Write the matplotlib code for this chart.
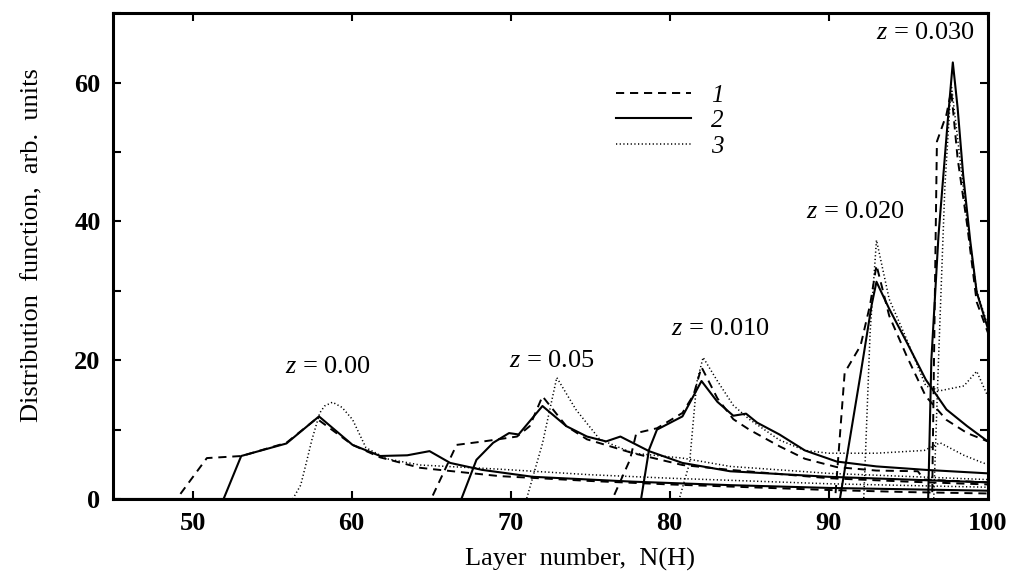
import matplotlib
matplotlib.use("Agg")
import matplotlib.pyplot as plt
from matplotlib.lines import Line2D

plt.rcParams['font.family'] = ['Liberation Serif', 'DejaVu Serif']
plt.rcParams['mathtext.fontset'] = 'custom'
plt.rcParams['mathtext.it'] = 'Liberation Serif:italic'
plt.rcParams['mathtext.rm'] = 'Liberation Serif'

# ---------------- data ----------------
# z = 0.00
z000_x1 = [45, 49.0, 50.9, 53.1, 55.9, 57.8, 60.06, 61.8, 64.3, 65.1, 69.3, 75, 80, 85, 90, 95, 100]
z000_y1 = [0, 0, 5.9, 6.2, 8.1, 11.6, 7.8, 6.0, 4.5, 4.3, 3.3, 2.6, 2.1, 1.7, 1.3, 1.0, 0.8]
z000_x2 = [45, 51.95, 53.06, 55.9, 57.95, 60.06, 61.8, 63.5, 64.9, 66.2, 68.2, 71.4, 77.7, 83.8, 90, 100]
z000_y2 = [0, 0, 6.2, 8.0, 11.9, 7.8, 6.2, 6.3, 6.9, 5.2, 4.2, 3.2, 2.5, 2.0, 1.6, 1.2]
z000_x3 = [45, 56.3, 56.8, 57.15, 57.5, 58.0, 58.3, 58.8, 59.4, 60.06, 60.9, 62.2, 64.3, 69.3, 75, 80, 90, 100]
z000_y3 = [0, 0, 2.0, 5.2, 8.5, 12.4, 13.4, 13.95, 13.2, 11.45, 7.4, 5.8, 4.9, 4.3, 3.5, 3.0, 2.2, 1.7]

# z = 0.05
z005_x1 = [45, 65.0, 66.6, 68.3, 70.4, 71.2, 72.0, 73.5, 74.8, 77.7, 80.8, 83.8, 90, 95, 100]
z005_y1 = [0, 0, 7.8, 8.3, 9.0, 10.5, 14.8, 10.5, 8.6, 6.6, 4.9, 4.2, 3.0, 2.5, 2.1]
z005_x2 = [45, 66.9, 67.85, 68.9, 69.9, 70.5, 72.0, 73.5, 74.8, 76.0, 76.9, 78.7, 80.8, 83.8, 90, 100]
z005_y2 = [0, 0, 5.65, 8.1, 9.5, 9.3, 13.4, 10.5, 9.0, 8.3, 9.0, 6.9, 5.2, 4.0, 3.2, 2.4]
z005_x3 = [45, 71.0, 72.0, 72.9, 74.1, 75.6, 77.7, 80.8, 83.8, 90, 100]
z005_y3 = [0, 0, 8.0, 17.5, 12.9, 8.6, 6.6, 5.9, 4.7, 3.7, 2.8]

# z = 0.010
z010_x1 = [45, 76.4, 77.5, 77.9, 79.2, 80.8, 81.5, 82.0, 83.0, 84.0, 85.0, 86.9, 88.5, 90.5, 93, 95.6, 96.0, 100]
z010_y1 = [0, 0, 5.65, 9.5, 10.2, 12.4, 15.0, 19.0, 14.5, 11.5, 10.0, 7.6, 5.8, 4.6, 4.1, 4.0, 2.8, 2.4]
z010_x2 = [45, 78.2, 78.7, 79.2, 80.8, 82.0, 83.0, 84.0, 84.8, 85.5, 86.9, 88.5, 90.5, 93, 96.1, 100]
z010_y2 = [0, 0, 7.1, 10.0, 11.9, 17.0, 14.0, 12.0, 12.3, 11.0, 9.3, 7.0, 5.4, 4.7, 4.2, 3.7]
z010_x3 = [45, 80.6, 81.25, 81.7, 82.1, 83.0, 84.0, 85.0, 86.9, 88.5, 90, 93, 96, 97.0, 98.5, 99.7, 100]
z010_y3 = [0, 0, 5.2, 16.8, 20.4, 17.0, 13.5, 11.5, 8.5, 7.0, 6.6, 6.6, 7.0, 8.1, 6.3, 5.2, 5.0]

# z = 0.020
z020_x1 = [45, 90.4, 91.0, 92.0, 92.6, 93.0, 93.8, 94.9, 96.1, 97.4, 98.7, 100]
z020_y1 = [0, 0, 18.2, 22.1, 28.0, 33.7, 26.4, 20.6, 14.8, 11.4, 9.5, 8.3]
z020_x2 = [45, 90.7, 92.0, 92.7, 93.0, 93.8, 94.9, 96.1, 97.4, 98.7, 100]
z020_y2 = [0, 0, 18.0, 28.0, 31.3, 27.4, 22.6, 17.2, 12.9, 10.5, 8.3]
z020_x3 = [45, 92.2, 92.6, 93.0, 93.8, 94.9, 96.1, 97.0, 98.5, 99.3, 100]
z020_y3 = [0, 0, 24.0, 37.3, 28.8, 23.0, 16.3, 15.6, 16.3, 18.4, 14.8]

# z = 0.030
z030_x1 = [45, 96.5, 96.8, 97.4, 97.7, 98.1, 98.7, 99.3, 100]
z030_y1 = [0, 0, 51.5, 55.4, 58.8, 49.1, 39.5, 28.4, 24.0]
z030_x2 = [45, 96.25, 96.45, 96.9, 97.5, 97.8, 98.1, 98.45, 98.9, 99.3, 100]
z030_y2 = [0, 0, 20.0, 38.0, 55.0, 62.9, 56.4, 46.7, 37.1, 29.8, 24.6]
z030_x3 = [45, 96.6, 96.9, 97.3, 97.7, 98.1, 98.7, 99.3, 100]
z030_y3 = [0, 0, 20.0, 45.0, 59.8, 52.0, 40.0, 30.0, 25.0]

curves = [
    (z000_x1, z000_y1, 1), (z000_x2, z000_y2, 2), (z000_x3, z000_y3, 3),
    (z005_x1, z005_y1, 1), (z005_x2, z005_y2, 2), (z005_x3, z005_y3, 3),
    (z010_x1, z010_y1, 1), (z010_x2, z010_y2, 2), (z010_x3, z010_y3, 3),
    (z020_x1, z020_y1, 1), (z020_x2, z020_y2, 2), (z020_x3, z020_y3, 3),
    (z030_x1, z030_y1, 1), (z030_x2, z030_y2, 2), (z030_x3, z030_y3, 3),
]

z_labels = [r'$z$ = 0.00', r'$z$ = 0.05', r'$z$ = 0.010', r'$z$ = 0.020', r'$z$ = 0.030']
z_label_x = [58.5, 72.6, 83.2, 91.7, 96.1]
z_label_y = [19.0, 19.9, 24.5, 41.4, 67.2]

legend_labels = ['1', '2', '3']
x_ticks = [50, 60, 70, 80, 90, 100]
y_ticks = [0, 20, 40, 60]
y_minor = [10, 30, 50, 70]

# ---------------- styles ----------------
styles = {
    1: dict(color='black', linestyle=(0, (4.2, 3.0)), linewidth=1.4),
    2: dict(color='black', linestyle='-', linewidth=1.5),
    3: dict(color='black', linestyle=(0, (0.8, 1.6)), linewidth=1.1),
}

fig = plt.figure(figsize=(10.09, 5.84), dpi=100)
ax = fig.add_axes([0.112, 0.1455, 0.867, 0.832])

for xs, ys, k in curves:
    ax.plot(xs, ys, **styles[k])

ax.set_xlim(45, 100)
ax.set_ylim(0, 70)
ax.set_xticks(x_ticks)
ax.set_yticks(y_ticks)
ax.set_yticks(y_minor, minor=True)
ax.tick_params(which='both', direction='in', top=True, right=True,
               length=6, width=1.5, labelsize=19, pad=9)
for lab in ax.get_xticklabels() + ax.get_yticklabels():
    lab.set_fontweight('bold')
for s in ax.spines.values():
    s.set_linewidth(2.2)

ax.set_xlabel('Layer  number,  N(H)', fontsize=19)
ax.set_ylabel('Distribution  function,  arb.  units', fontsize=19)
ax.xaxis.set_label_coords(0.534, -0.10)
ax.yaxis.set_label_coords(-0.080, 0.523)

for t, xx, yy in zip(z_labels, z_label_x, z_label_y):
    ax.text(xx, yy, t, fontsize=19, ha='center', va='center')

handles = [Line2D([], [], **styles[k]) for k in (1, 2, 3)]
leg = ax.legend(handles, legend_labels, loc='upper left', bbox_to_anchor=(0.549, 0.90),
                frameon=False, handlelength=3.0, handletextpad=0.8, labelspacing=0.12,
                prop={'family': 'Liberation Serif', 'style': 'italic', 'size': 18})

fig.savefig('out.png', dpi=100)
